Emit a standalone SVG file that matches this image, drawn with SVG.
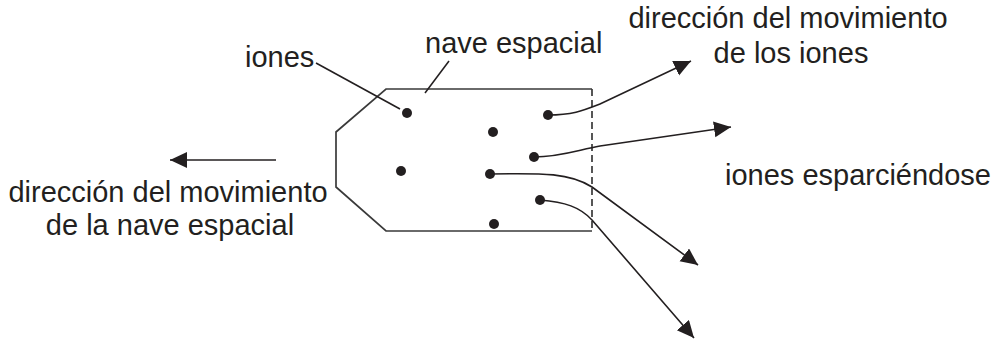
<svg xmlns="http://www.w3.org/2000/svg" width="1000" height="342" viewBox="0 0 1000 342">
<defs>
<style>
.t{font-family:"Liberation Sans",Arial,sans-serif;font-size:29px;fill:#231f20}
.ln{fill:none;stroke:#231f20;stroke-width:1.6}
.ship{fill:none;stroke:#3a3a3a;stroke-width:1.7}
.dash{fill:none;stroke:#3a3a3a;stroke-width:1.7;stroke-dasharray:7,4}
.dot{fill:#231f20}
</style>
<marker id="ah" markerUnits="userSpaceOnUse" markerWidth="20" markerHeight="18" refX="17" refY="8" orient="auto">
<path d="M0,0 L17,8 L0,16 z" fill="#231f20"/>
</marker>
</defs>
<rect width="1000" height="342" fill="#fff"/>
<g id="ship">
<path class="ship" d="M592,89 H386 L336,132 V187 L386,231 H592"/>
<path class="dash" d="M592,89 V231"/>
</g>
<g id="ions">
<circle class="dot" cx="407" cy="113" r="5"/>
<circle class="dot" cx="548" cy="115" r="5"/>
<circle class="dot" cx="493" cy="132" r="5"/>
<circle class="dot" cx="534" cy="157" r="5"/>
<circle class="dot" cx="401" cy="171" r="5"/>
<circle class="dot" cx="490" cy="174" r="5"/>
<circle class="dot" cx="540" cy="200" r="5"/>
<circle class="dot" cx="494" cy="224" r="5"/>
</g>
<g id="connectors">
<path class="ln" d="M316,63 L400,109"/>
<path class="ln" d="M449,61 L425,93"/>
<path class="ln" d="M276,160 L170,160" marker-end="url(#ah)"/>
<path class="ln" d="M548,115 C572,115 582,111 600,104 L691,61" marker-end="url(#ah)"/>
<path class="ln" d="M534,157 C560,157 578,150 600,146 L731,127" marker-end="url(#ah)"/>
<path class="ln" d="M490,174 C545,173 570,173 592,187 L698,265" marker-end="url(#ah)"/>
<path class="ln" d="M540,200 C565,202 580,207 592,220 L694,338" marker-end="url(#ah)"/>
</g>
<g id="labels">
<text class="t" x="245" y="67">iones</text>
<text class="t" x="425" y="53">nave espacial</text>
<text class="t" x="788" y="28" text-anchor="middle">dirección del movimiento</text>
<text class="t" x="791" y="63" text-anchor="middle">de los iones</text>
<text class="t" x="725" y="185" textLength="266" lengthAdjust="spacingAndGlyphs">iones esparciéndose</text>
<text class="t" x="168" y="202" text-anchor="middle">dirección del movimiento</text>
<text class="t" x="170" y="235" text-anchor="middle">de la nave espacial</text>
</g>
</svg>
